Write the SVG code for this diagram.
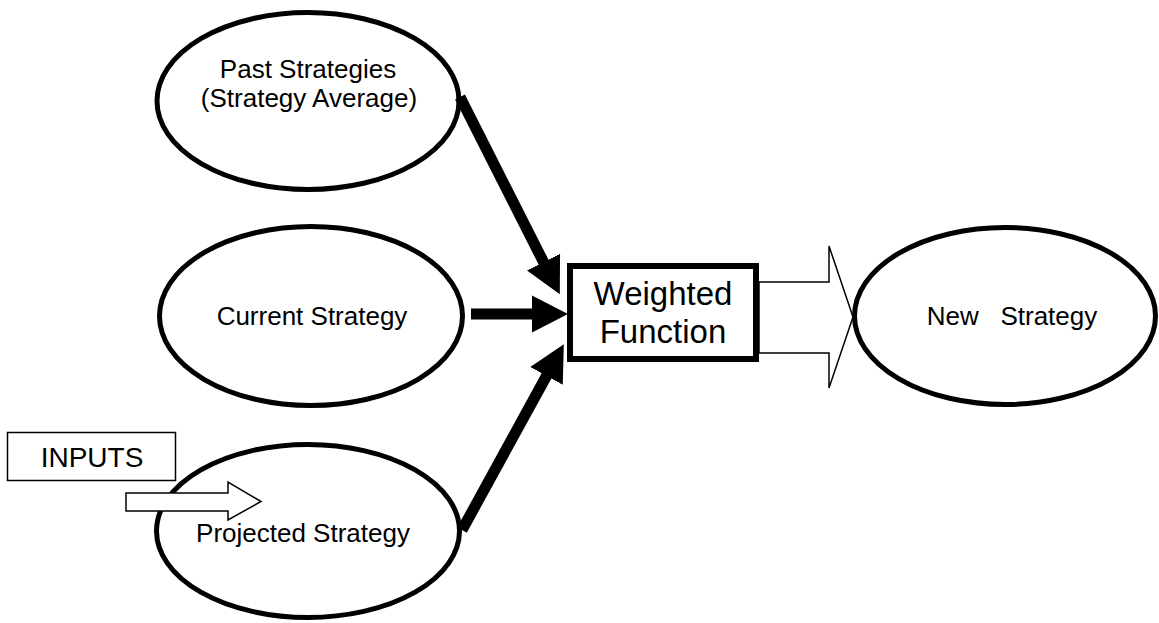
<svg xmlns="http://www.w3.org/2000/svg" width="1159" height="623" viewBox="0 0 1159 623">
  <style>
    .node ellipse { fill: #fff; stroke: #000; stroke-width: 5; }
    .lbl { font-family: "Liberation Sans", Arial, sans-serif; font-size: 26px; fill: #000; text-anchor: middle; }
    .big { font-size: 33px; }
    .inp { font-size: 28px; }
    .thick { stroke: #000; stroke-width: 11; fill: none; }
    .hollow { fill: #fff; stroke: #000; stroke-width: 1.5; stroke-linejoin: miter; }
  </style>
  <defs>
    <marker id="head" markerUnits="userSpaceOnUse" markerWidth="36" markerHeight="38" viewBox="0 0 35 36" refX="1" refY="18" orient="auto">
      <path d="M0,0 L35,18 L0,36 z" fill="#000"/>
    </marker>
  </defs>
  <rect width="1159" height="623" fill="#fff"/>

  <g id="node-past" class="node">
    <ellipse cx="308" cy="101" rx="151" ry="88.5"/>
    <text class="lbl" x="308" y="78">Past Strategies</text>
    <text class="lbl" x="309" y="107">(Strategy Average)</text>
  </g>

  <g id="node-current" class="node">
    <ellipse cx="311" cy="316" rx="151.5" ry="89.5"/>
    <text class="lbl" x="312" y="325">Current Strategy</text>
  </g>

  <g id="node-projected" class="node">
    <ellipse cx="308" cy="531" rx="151.5" ry="86.5"/>
    <text class="lbl" x="303" y="542">Projected Strategy</text>
  </g>

  <g id="connectors">
    <line class="thick" x1="460" y1="97" x2="544" y2="263" marker-end="url(#head)"/>
    <line class="thick" x1="471" y1="314" x2="533" y2="314" marker-end="url(#head)"/>
    <line class="thick" x1="462" y1="530" x2="547" y2="375" marker-end="url(#head)"/>
    <polygon class="hollow" points="759,282 829,282 829,246 853,317 829,388 829,353 759,353"/>
    <polygon class="hollow" points="126,493 228,493 228,482 261,501.5 228,520 228,511 126,511"/>
  </g>

  <g id="node-weighted">
    <rect x="570" y="266" width="186" height="93" fill="#fff" stroke="#000" stroke-width="6"/>
    <text class="lbl big" x="663" y="305">Weighted</text>
    <text class="lbl big" x="663" y="343">Function</text>
  </g>

  <g id="node-new" class="node">
    <ellipse cx="1005" cy="316" rx="150.5" ry="88.5" style="fill:none"/>
    <text class="lbl" x="1012" y="325" xml:space="preserve">New   Strategy</text>
  </g>

  <g id="node-inputs">
    <rect x="7.5" y="432.5" width="168" height="48" fill="#fff" stroke="#000" stroke-width="1.5"/>
    <text class="lbl inp" x="92" y="467">INPUTS</text>
  </g>
</svg>
